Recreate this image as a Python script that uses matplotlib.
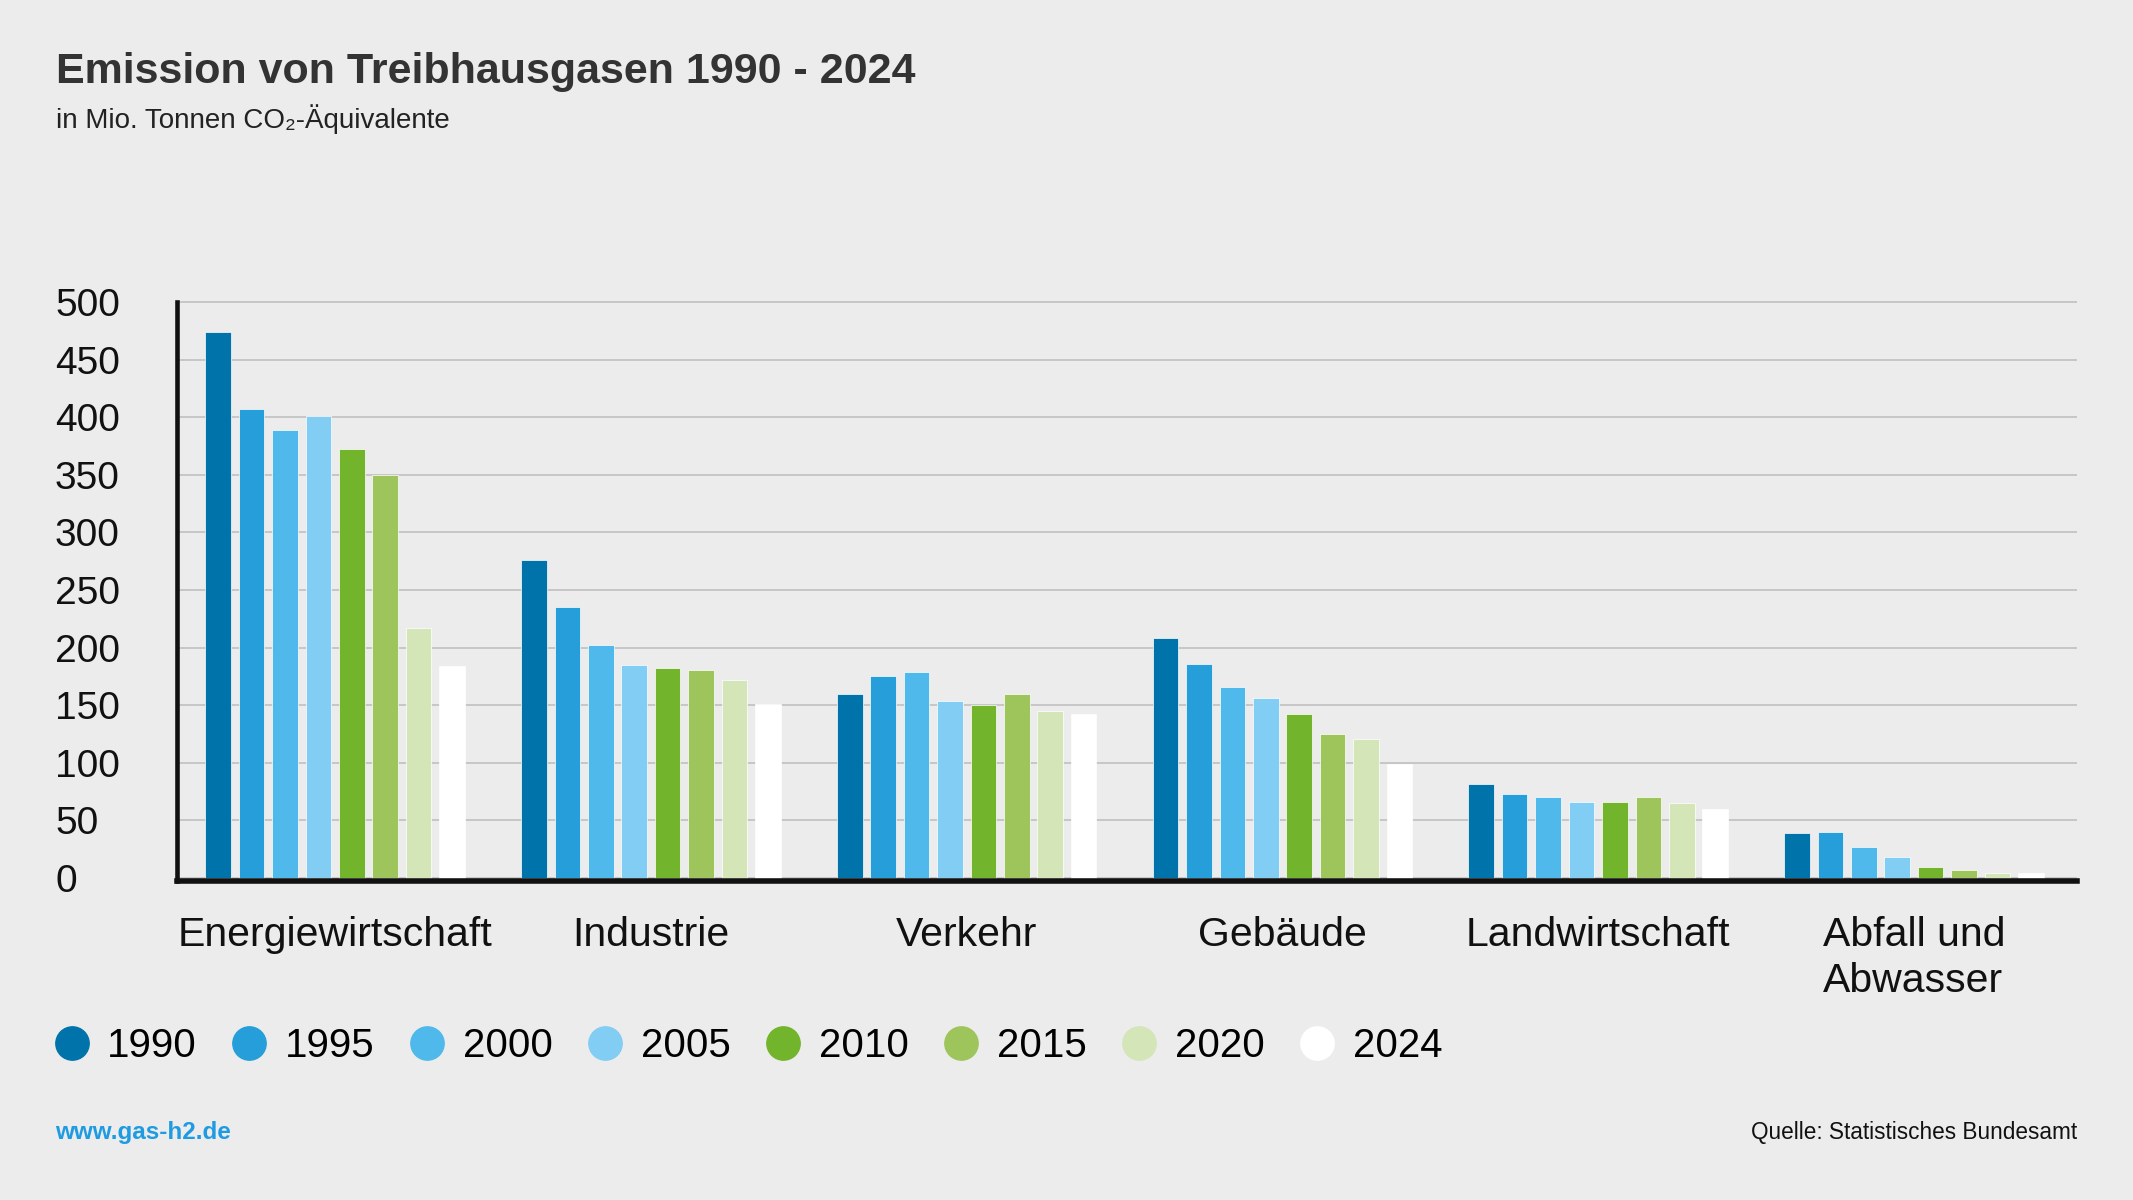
import numpy as np
import matplotlib
matplotlib.use("Agg")
import matplotlib.pyplot as plt
from matplotlib.lines import Line2D

plt.rcParams["font.family"] = ["Liberation Sans", "DejaVu Sans"]

# Emissionen in Mio. t CO2-Aequivalente
sectors = ["Energiewirtschaft", "Industrie", "Verkehr", "Gebäude",
           "Landwirtschaft", "Abfall und\nAbwasser"]
years = ["1990", "1995", "2000", "2005", "2010", "2015", "2020", "2024"]
energie = [474, 407, 389, 401, 372, 350, 217, 184]
industrie = [276, 235, 202, 185, 182, 181, 172, 151]
verkehr = [160, 175, 179, 154, 150, 160, 145, 142]
gebaeude = [208, 186, 166, 156, 142, 125, 121, 99]
landwirtschaft = [82, 73, 70, 66, 66, 70, 65, 60]
abfall = [39, 40, 27, 18, 10, 7, 4, 4]
y_ticks = [0, 50, 100, 150, 200, 250, 300, 350, 400, 450, 500]

colors = ["#0073aa", "#259ed9", "#4fb9eb", "#82cdf3",
          "#72b42c", "#9ec55b", "#d4e5b8", "#ffffff"]
BG = "#ececec"

values = np.array([energie, industrie, verkehr, gebaeude, landwirtschaft, abfall])

# thick base line sits just below zero, so tiny bars stay visible
Y_MIN, Y_MAX = -2.4, 505

fig = plt.figure(figsize=(21.33, 12), dpi=100, facecolor=BG)
ax = fig.add_axes([0.0831, 0.2660, 0.9737 - 0.0831, 0.4871])
ax.set_facecolor(BG)

x = np.arange(len(sectors))
step = 0.1058
width = 0.081
for j, yr in enumerate(years):
    offs = (j - (len(years) - 1) / 2) * step
    ax.bar(x + offs, values[:, j], width=width, color=colors[j],
           edgecolor="white", linewidth=0.5, zorder=3, label=yr)

ax.set_xlim(-0.5, 5.516)
ax.set_ylim(Y_MIN, Y_MAX)

ax.set_yticks(y_ticks)
ax.set_yticklabels([str(t) for t in y_ticks], ha="left")
ax.tick_params(axis="y", length=0, pad=88, labelsize=28, labelcolor="#111111")
ax.set_xticks(x)
ax.set_xticklabels(sectors, multialignment="left", linespacing=1.28)
ax.tick_params(axis="x", length=0, pad=25, labelsize=29.5, labelcolor="#111111")

ax.grid(axis="y", color="#c6c6c6", linewidth=1.4, zorder=0)
ax.set_axisbelow(True)
for s in ["top", "right"]:
    ax.spines[s].set_visible(False)
ax.spines["left"].set_linewidth(3.3)
ax.spines["left"].set_color("#111111")
ax.spines["left"].set_bounds(Y_MIN, 500)
ax.spines["bottom"].set_linewidth(4)
ax.spines["bottom"].set_color("#111111")
ax.spines["bottom"].set_zorder(4)

# legend with round markers
handles = [Line2D([], [], linestyle="none", marker="o", markersize=24,
                  markerfacecolor=c, markeredgecolor=c) for c in colors]
fig.legend(handles, years, loc="center left", bbox_to_anchor=(0.0255, 0.1285),
           ncol=len(years), frameon=False, fontsize=29, handlelength=0.85,
           handletextpad=0.45, columnspacing=0.89, borderpad=0, borderaxespad=0)

fig.text(0.0262, 0.9308, "Emission von Treibhausgasen 1990 - 2024",
         fontsize=31, fontweight="bold", color="#333333", va="baseline")
fig.text(0.0262, 0.8933, "in Mio. Tonnen CO₂-Äquivalente",
         fontsize=20, color="#222222", va="baseline")
fig.text(0.0258, 0.0506, "www.gas-h2.de", fontsize=17.5, fontweight="bold",
         color="#1e9be1", va="baseline")
fig.text(0.9737, 0.0508, "Quelle: Statistisches Bundesamt", fontsize=16.3,
         color="#111111", ha="right", va="baseline")

fig.savefig("out.png", dpi=100, facecolor=BG)
